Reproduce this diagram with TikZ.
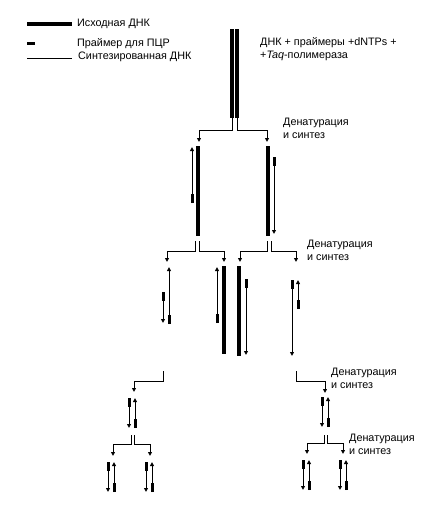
\documentclass[tikz,border=0pt]{standalone}
\usepackage{fontspec}
\setmainfont{Liberation Sans}
\usetikzlibrary{arrows.meta}

% synthesised strand with the primer on top, growing down
\newcommand{\synthdown}[3]{%
  \draw[synth, ->] (#1,#2) -- (#1,#3);
  \draw[primer] (#1,#2) -- ++(0,9);}
% synthesised strand with the primer at the bottom, growing up
\newcommand{\synthup}[3]{%
  \draw[synth, ->] (#1,#3) -- (#1,#2);
  \draw[primer] (#1,#3) -- ++(0,-9);}

\begin{document}
\begin{tikzpicture}[x=1pt, y=-1pt, >={Triangle[length=4pt, width=3.8pt]}]
        % Styles
        \tikzstyle{orig} = [line width=3.4pt]
        \tikzstyle{primer} = [line width=3pt]
        \tikzstyle{synth} = [line width=0.9pt]
        \tikzstyle{branch} = [synth, ->]
        \tikzstyle{lbl} = [inner sep=0pt, font=\fontsize{10.8}{12.8}\selectfont, align=left]

        \useasboundingbox (0,0) rectangle (447,512);

        % Legend
        \draw[orig] (27,24) -- (72,24);
        \node[lbl, anchor=base west] (leg_orig) at (77,26) {Исходная ДНК};
        \draw[primer] (27,43) -- (35,43);
        \node[lbl, anchor=base west] (leg_primer) at (77,46) {Праймер для ПЦР};
        \draw[synth] (27,58) -- (72,58);
        \node[lbl, anchor=base west] (leg_synth) at (78,59) {Синтезированная ДНК};

        % Starting DNA
        \draw[orig] (232,29) -- (232,118);
        \draw[orig] (237,29) -- (237,118);
        \node[lbl, anchor=north west] (mix) at (260,37) {ДНК + праймеры +dNTPs +\\+\textit{Taq}-полимераза};

        % Cycle 1
        \draw[branch] (232,118) |- (199,130) -- (199,142);
        \draw[branch] (237,118) |- (267,130) -- (267,142);
        \node[lbl, anchor=north west] (cyc1) at (283,118) {Денатурация\\и синтез};

        \draw[orig] (198,146) -- (198,236);
        \synthup{192}{147}{203}
        \draw[orig] (268,146) -- (268,236);
        \synthdown{274}{157}{234}

        % Cycle 2
        \draw[branch] (195,241) |- (167,251) -- (167,262);
        \draw[branch] (199,241) |- (224,251) -- (224,262);
        \draw[branch] (267,241) |- (240,251) -- (240,262);
        \draw[branch] (271,241) |- (296,251) -- (296,262);
        \node[lbl, anchor=north west] (cyc2) at (307,240) {Денатурация\\и синтез};

        \synthdown{163}{292}{323}
        \synthup{169}{267}{324}
        \synthup{217}{267}{323}
        \draw[orig] (224,266) -- (224,354);
        \draw[orig] (239,266) -- (239,356);
        \synthdown{246}{279}{355}
        \synthdown{292}{280}{356}
        \synthup{298}{280}{309}

        % Cycle 3
        \draw[branch] (163,371) |- (134,381) -- (134,392);
        \draw[branch] (296,371) |- (325,381) -- (325,393);
        \node[lbl, anchor=north west] (cyc3) at (331,368) {Денатурация\\и синтез};

        \foreach \c/\t in {132/398, 325/397} {
            \synthdown{\c-3}{\t}{\t+30}
            \synthup{\c+3}{\t}{\t+30}
        }

        % Cycle 4
        \draw[branch] (131,435) |- (113,444) -- (113,456);
        \draw[branch] (134,435) |- (150,444) -- (150,456);
        \draw[branch] (324,435) |- (307,443) -- (307,454);
        \draw[branch] (327,435) |- (343,443) -- (343,454);
        \node[lbl, anchor=north west] (cyc4) at (349,434) {Денатурация\\и синтез};

        \foreach \c/\t in {111/462, 149/462, 306/460, 343/460} {
            \synthdown{\c-3}{\t}{\t+30}
            \synthup{\c+3}{\t}{\t+30}
        }
\end{tikzpicture}
\end{document}
